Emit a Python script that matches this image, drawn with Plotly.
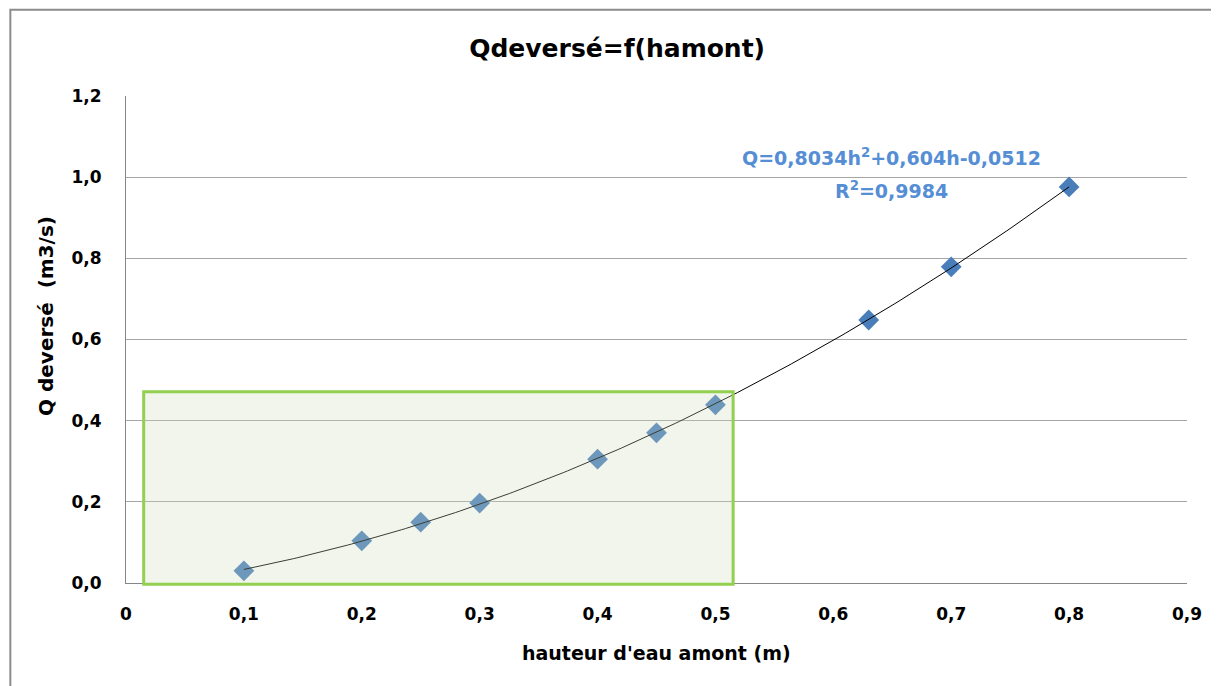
import numpy as np
import plotly.graph_objects as go

h_amont = [0.10, 0.20, 0.25, 0.30, 0.40, 0.45, 0.50, 0.63, 0.70, 0.80]
q_deverse = [0.030, 0.104, 0.150, 0.197, 0.305, 0.370, 0.439, 0.648, 0.779, 0.976]

x_tickvals = [0, 0.1, 0.2, 0.3, 0.4, 0.5, 0.6, 0.7, 0.8, 0.9]
x_ticktext = ["0", "0,1", "0,2", "0,3", "0,4", "0,5", "0,6", "0,7", "0,8", "0,9"]
y_tickvals = [0.0, 0.2, 0.4, 0.6, 0.8, 1.0, 1.2]
y_ticktext = ["0,0", "0,2", "0,4", "0,6", "0,8", "1,0", "1,2"]

X_RANGE = [0, 0.9]
Y_RANGE = [0, 1.2]

box_x = [0.015, 0.515]
box_y = [-0.003, 0.471]

# polynomial trendline (degree 2) fitted on the data, as Excel does
coef = np.polyfit(h_amont, q_deverse, 2)
hx = np.linspace(min(h_amont), max(h_amont), 200)
qy = np.polyval(coef, hx)

FONT = "DejaVu Sans"

fig = go.Figure()
fig.add_trace(go.Scatter(x=h_amont, y=q_deverse, mode="markers",
                         marker=dict(symbol="diamond", size=16, color="#4a7ebb",
                                     line=dict(width=0)),
                         showlegend=False, hoverinfo="x+y"))
fig.add_trace(go.Scatter(x=hx, y=qy, mode="lines",
                         line=dict(color="#000000", width=1),
                         showlegend=False, hoverinfo="skip"))

# highlight box (paper coords so its border is not clipped at the axis)
def px(v):
    return (v - X_RANGE[0]) / (X_RANGE[1] - X_RANGE[0])

def py(v):
    return (v - Y_RANGE[0]) / (Y_RANGE[1] - Y_RANGE[0])

fig.add_shape(type="rect", xref="paper", yref="paper",
              x0=px(box_x[0]), x1=px(box_x[1]), y0=py(box_y[0]), y1=py(box_y[1]),
              line=dict(color="#92d050", width=3),
              fillcolor="rgba(206,220,185,0.28)", layer="above")

# outer chart frame (right and bottom edges fall outside the picture)
fig.add_shape(type="rect", xref="paper", yref="paper",
              x0=-0.109, x1=1.06, y0=-0.25, y1=1.177,
              line=dict(color="#8c8c8c", width=2), fillcolor="rgba(0,0,0,0)")

eq_font = dict(family=FONT, size=19, color="#558ed5", weight="bold")
fig.add_annotation(xref="x", yref="y", x=0.649, y=1.050, xanchor="center", yanchor="middle",
                   text="Q=0,8034h<sup>2</sup>+0,604h-0,0512", showarrow=False, font=eq_font)
fig.add_annotation(xref="x", yref="y", x=0.649, y=0.968, xanchor="center", yanchor="middle",
                   text="R<sup>2</sup>=0,9984", showarrow=False, font=eq_font)

# axis titles
fig.add_annotation(xref="paper", yref="paper", x=(656 - 126) / 1061, y=-(653 - 583) / 487,
                   xanchor="center", yanchor="middle", showarrow=False,
                   text="hauteur d'eau amont (m)",
                   font=dict(family=FONT, size=19, color="#000000", weight="bold"))
fig.add_annotation(xref="paper", yref="paper", x=-(126 - 46) / 1061, y=(583 - 316) / 487,
                   xanchor="center", yanchor="middle", showarrow=False, textangle=-90,
                   text="Q deversé  (m3/s)",
                   font=dict(family=FONT, size=20, color="#000000", weight="bold"))

fig.update_layout(
    width=1211, height=678,
    paper_bgcolor="white", plot_bgcolor="white",
    margin=dict(l=118, r=32, t=88, b=103),
    title=dict(text="Qdeversé=f(hamont)", x=0.503, xanchor="center", y=0.941, yanchor="middle",
               font=dict(family=FONT, size=25, color="#000000", weight="bold")),
    font=dict(family=FONT, color="#000000"),
    xaxis=dict(range=X_RANGE, tickvals=x_tickvals, ticktext=x_ticktext,
               showgrid=False, zeroline=False, showline=True, linecolor="#868686", linewidth=1,
               ticks="", ticklabelstandoff=16,
               tickfont=dict(family=FONT, size=17, color="#000000", weight="bold")),
    yaxis=dict(range=Y_RANGE, tickvals=y_tickvals, ticktext=y_ticktext,
               showgrid=True, gridcolor="#a6a6a6", gridwidth=1, zeroline=False,
               showline=True, linecolor="#868686", linewidth=1, ticks="",
               ticklabelstandoff=20,
               tickfont=dict(family=FONT, size=17, color="#000000", weight="bold")),
)

fig.write_html("out.html")
